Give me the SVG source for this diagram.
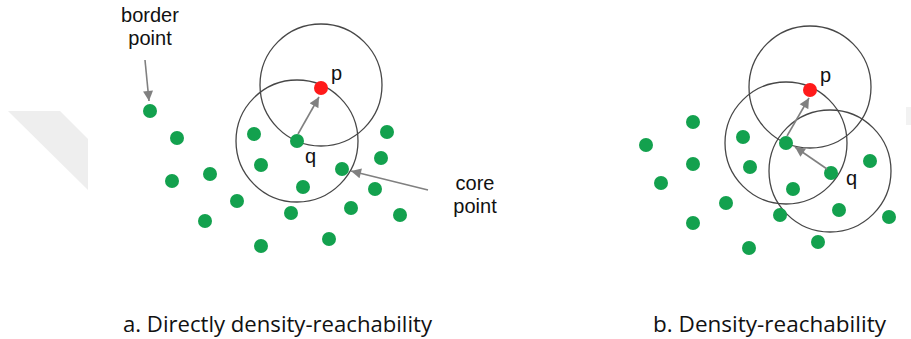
<svg xmlns="http://www.w3.org/2000/svg" width="911" height="339" viewBox="0 0 911 339">
<defs>
<style>
.dot{fill:#13a14e}
.red{fill:#ff1a1a}
.ring{fill:none;stroke:#474747;stroke-width:1.3}
.arr{stroke:#808080;stroke-width:1.6;fill:none;marker-end:url(#ah)}
.lbl{font-family:"Liberation Sans",Arial,sans-serif;font-size:20px;fill:#111}
.cap{font-family:"Open Sans","Liberation Sans",sans-serif;font-size:21px;fill:#111}
</style>
<marker id="ah" viewBox="0 0 10 10" refX="10" refY="5" markerWidth="11" markerHeight="10" markerUnits="userSpaceOnUse" orient="auto">
<path d="M0,0 L10,5 L0,10 z" fill="#808080"/>
</marker>
</defs>
<rect width="911" height="339" fill="#ffffff"/>
<polygon points="8,111 60,111 88,139 88,190" fill="#eeeeee"/>
<rect x="906" y="107" width="5" height="18" fill="#f2f2f2"/>

<g id="panel-a">
<g id="circles-a">
<circle class="ring" cx="321" cy="85" r="61"/>
<circle class="ring" cx="297" cy="141" r="61"/>
</g>
<g id="points-a">
<circle id="a-border" class="dot" cx="150" cy="111" r="7"/>
<circle class="dot" cx="177" cy="138" r="7"/>
<circle class="dot" cx="254" cy="134" r="7"/>
<circle id="a-q" class="dot" cx="297" cy="141" r="7"/>
<circle class="dot" cx="387" cy="132" r="7"/>
<circle class="dot" cx="172" cy="181" r="7"/>
<circle class="dot" cx="210" cy="174" r="7"/>
<circle class="dot" cx="261" cy="165" r="7"/>
<circle class="dot" cx="381" cy="158" r="7"/>
<circle id="a-core" class="dot" cx="342" cy="169" r="7"/>
<circle class="dot" cx="303" cy="187" r="7"/>
<circle class="dot" cx="375" cy="189" r="7"/>
<circle class="dot" cx="237" cy="201" r="7"/>
<circle class="dot" cx="205" cy="221" r="7"/>
<circle class="dot" cx="291" cy="213" r="7"/>
<circle class="dot" cx="351" cy="208" r="7"/>
<circle class="dot" cx="400" cy="215" r="7"/>
<circle class="dot" cx="261" cy="246" r="7"/>
<circle class="dot" cx="329" cy="239" r="7"/>
<circle id="a-p" class="red" cx="321" cy="88" r="7"/>
</g>
<g id="labels-a">
<text class="lbl" x="150" y="22" text-anchor="middle">border</text>
<text class="lbl" x="150" y="45" text-anchor="middle">point</text>
<text class="lbl" x="331" y="80">p</text>
<text class="lbl" x="305" y="163">q</text>
<text class="lbl" x="475" y="190" text-anchor="middle">core</text>
<text class="lbl" x="475" y="213" text-anchor="middle">point</text>
</g>
</g>

<g id="panel-b">
<g id="circles-b">
<circle class="ring" cx="810" cy="87" r="61"/>
<circle class="ring" cx="786" cy="143" r="61"/>
<circle class="ring" cx="830" cy="171" r="61"/>
</g>
<g id="points-b">
<circle class="dot" cx="693" cy="122" r="7"/>
<circle class="dot" cx="646" cy="145" r="7"/>
<circle class="dot" cx="693" cy="164" r="7"/>
<circle class="dot" cx="661" cy="183" r="7"/>
<circle class="dot" cx="743" cy="137" r="7"/>
<circle class="dot" cx="750" cy="167" r="7"/>
<circle id="b-mid" class="dot" cx="786" cy="143" r="7"/>
<circle id="b-q" class="dot" cx="831" cy="173" r="7"/>
<circle class="dot" cx="870" cy="161" r="7"/>
<circle class="dot" cx="793" cy="189" r="7"/>
<circle class="dot" cx="726" cy="203" r="7"/>
<circle class="dot" cx="780" cy="215" r="7"/>
<circle class="dot" cx="839" cy="210" r="7"/>
<circle class="dot" cx="889" cy="217" r="7"/>
<circle class="dot" cx="693" cy="223" r="7"/>
<circle class="dot" cx="749" cy="248" r="7"/>
<circle class="dot" cx="818" cy="242" r="7"/>
<circle id="b-p" class="red" cx="810" cy="90" r="7"/>
</g>
<g id="labels-b">
<text class="lbl" x="820" y="82">p</text>
<text class="lbl" x="846" y="185">q</text>
</g>
</g>

<g id="connectors">
<line class="arr" x1="145" y1="60" x2="149" y2="101"/>
<line class="arr" x1="298" y1="134" x2="319" y2="97"/>
<line class="arr" x1="428" y1="190" x2="351" y2="171"/>
<line class="arr" x1="787" y1="136" x2="809" y2="98"/>
<line class="arr" x1="827" y1="169" x2="795" y2="147"/>
</g>

<g id="captions">
<text class="cap" x="123" y="332" textLength="309" lengthAdjust="spacingAndGlyphs">a. Directly density-reachability</text>
<text class="cap" x="653" y="332" textLength="233" lengthAdjust="spacingAndGlyphs">b. Density-reachability</text>
</g>
</svg>
